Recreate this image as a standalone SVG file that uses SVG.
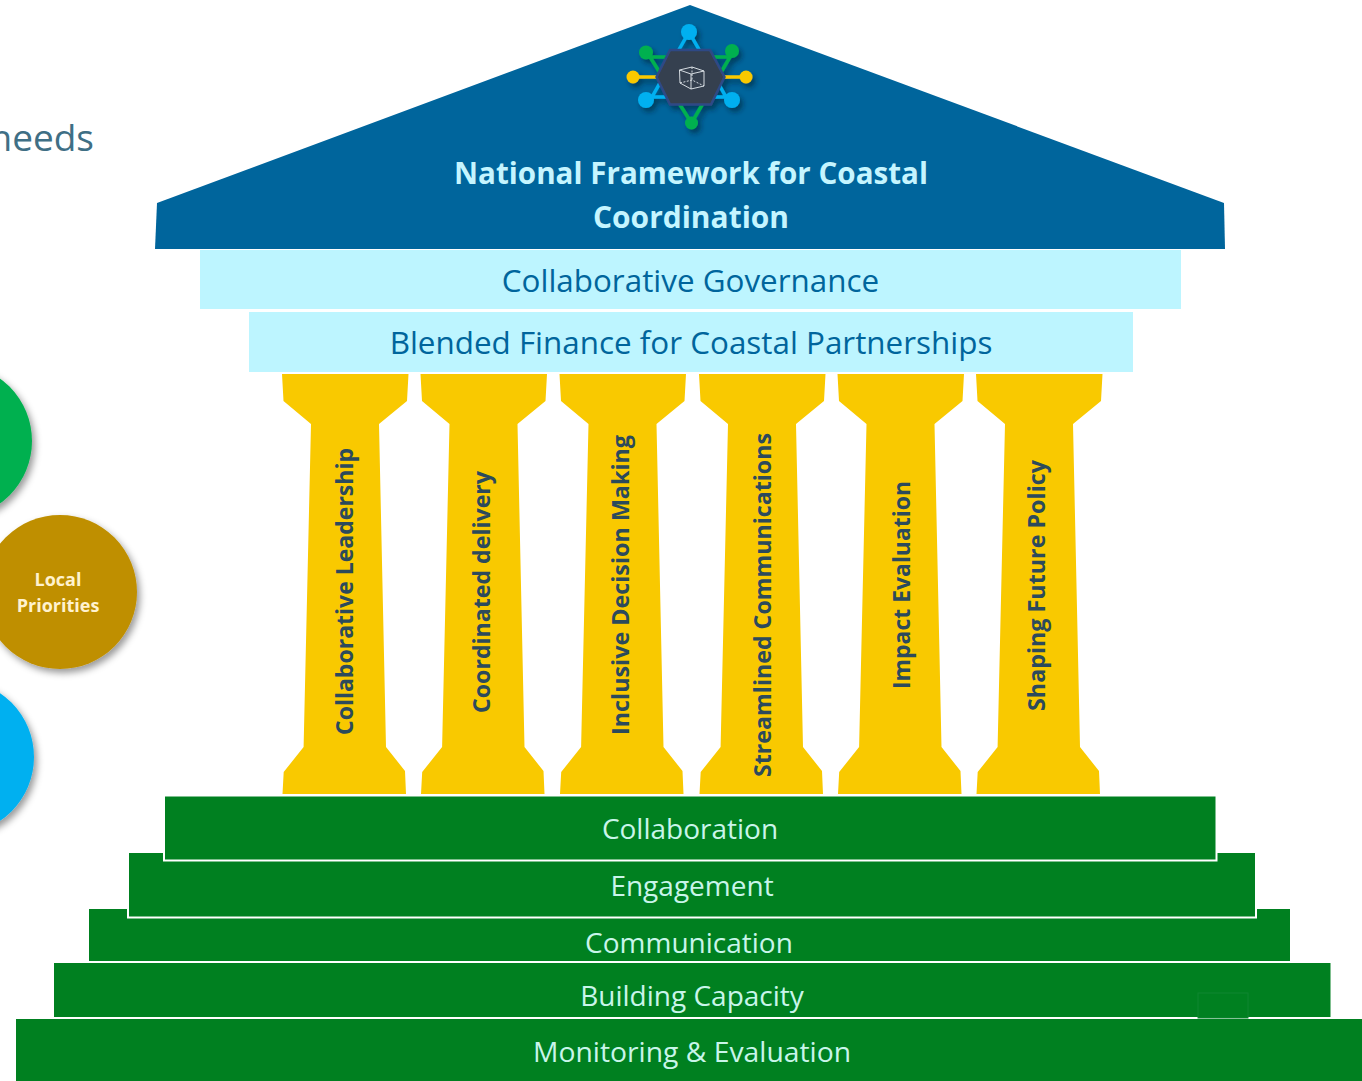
<svg xmlns="http://www.w3.org/2000/svg" width="1362" height="1081" viewBox="0 0 1362 1081">
<style>
text{font-family:"Open Sans","Noto Sans","Liberation Sans",sans-serif;text-anchor:middle}
.band{fill:#bdf5ff}
.bt{fill:#00659c;font-size:31.400px}
.step{fill:#008020;stroke:#fff;stroke-width:2}
.st{fill:#c9f5ea;font-size:28px}
.pl{fill:#f9c900}
.pt{fill:#2c4a5c;font-size:24px;font-weight:700}
.k{stroke-width:3.500;fill:none}
.cube{fill:none;stroke:#e8edf2;stroke-width:.9}
</style>
<defs>
<filter id="sh" x="-30%" y="-30%" width="170%" height="170%"><feDropShadow dx="3" dy="4" stdDeviation="3.500" flood-color="#000" flood-opacity=".4"/></filter>
<filter id="sh2" x="-60%" y="-60%" width="240%" height="240%"><feDropShadow dx="3" dy="4" stdDeviation="2.500" flood-color="#001a33" flood-opacity=".55"/></filter>
<polygon id="pillar" points="282,374 408.500,374 407,401 379,424 386,747 405,771 406,794 282.500,794 283.700,772 303.600,747 311,424 283.500,401"/>
</defs>
<text x="94" y="151" style="text-anchor:end;font-size:37px;fill:#3f6f85">needs</text>
<g id="circle-green"><circle cx="-45" cy="441" r="77" fill="#00b04f" filter="url(#sh)"/></g>
<g id="circle-local-priorities"><circle cx="60" cy="592" r="77" fill="#bf8f00" filter="url(#sh)"/>
<text x="58" y="586" fill="#fff2cf" font-size="18" font-weight="700">Local</text>
<text x="58" y="612" fill="#fff2cf" font-size="18" font-weight="700">Priorities</text></g>
<g id="circle-blue"><circle cx="-43" cy="757" r="77" fill="#00b0f0" filter="url(#sh)"/></g>
<g id="roof"><polygon points="690,5 1224,203 1225,249 155,249 157,203" fill="#00659c"/>
<text x="691" y="184" fill="#c5f5ff" font-size="30" font-weight="700" textLength="474" lengthAdjust="spacingAndGlyphs">National Framework for Coastal</text>
<text x="691" y="228" fill="#c5f5ff" font-size="30" font-weight="700" textLength="196" lengthAdjust="spacingAndGlyphs">Coordination</text></g>
<g id="network-icon">
<g filter="url(#sh2)">
<path class="k" stroke="#00b0f0" d="M689,32 L652,97 H726 Z M646,100 L652,97 M732,100 L726,97"/>
<path class="k" stroke="#00b04f" d="M646,52 L650,57 H730 L732,51 M650,57 L691.500,123 L730,57"/>
<path class="k" stroke="#f9c900" d="M633,77 H746"/>
<circle cx="689" cy="32" r="8" fill="#00b0f0"/><circle cx="646" cy="100" r="8" fill="#00b0f0"/><circle cx="732" cy="100" r="8" fill="#00b0f0"/>
<circle cx="646" cy="52.500" r="7" fill="#00b04f"/><circle cx="732" cy="51" r="7" fill="#00b04f"/><circle cx="691.500" cy="123" r="6.500" fill="#00b04f"/>
<circle cx="633" cy="77" r="6.500" fill="#f9c900"/><circle cx="746" cy="77" r="6.500" fill="#f9c900"/>
<polygon points="656.500,77 670,50 710,50 724.500,77 711,104.500 670,104.500" fill="#36404f" stroke="#2f4a86" stroke-width="2.500"/>
</g>
<path class="cube" d="M679.500,70 L692,67 L704,71 V86 L691,89 L680,83 Z M679.500,70 L691,74 L704,71 M691,74 V89"/>
<path class="cube" stroke-dasharray="2 1.500" d="M692,67 V80 M680,83 L692,80 L704,86"/>
</g>
<g id="band-governance"><rect class="band" x="200" y="250" width="981" height="59"/><text class="bt" x="690.500" y="292">Collaborative Governance</text></g>
<g id="band-finance"><rect class="band" x="249" y="312" width="884" height="60"/><text class="bt" x="691" y="354">Blended Finance for Coastal Partnerships</text></g>
<g id="pillar-1"><use href="#pillar" class="pl"/><text class="pt" transform="translate(353,591.500) rotate(-90)" textLength="287" lengthAdjust="spacingAndGlyphs">Collaborative Leadership</text></g>
<g id="pillar-2"><use href="#pillar" class="pl" x="138.500"/><text class="pt" transform="translate(490,592) rotate(-90)" textLength="242" lengthAdjust="spacingAndGlyphs">Coordinated delivery</text></g>
<g id="pillar-3"><use href="#pillar" class="pl" x="277.500"/><text class="pt" transform="translate(629,585) rotate(-90)" textLength="300" lengthAdjust="spacingAndGlyphs">Inclusive Decision Making</text></g>
<g id="pillar-4"><use href="#pillar" class="pl" x="417"/><text class="pt" transform="translate(771,605) rotate(-90)" textLength="344" lengthAdjust="spacingAndGlyphs">Streamlined Communications</text></g>
<g id="pillar-5"><use href="#pillar" class="pl" x="555.500"/><text class="pt" transform="translate(910,585) rotate(-90)" textLength="208" lengthAdjust="spacingAndGlyphs">Impact Evaluation</text></g>
<g id="pillar-6"><use href="#pillar" class="pl" x="694"/><text class="pt" transform="translate(1045,585.500) rotate(-90)" textLength="251" lengthAdjust="spacingAndGlyphs">Shaping Future Policy</text></g>
<g id="step-5"><rect class="step" x="15" y="1018" width="1360" height="70"/><text class="st" x="692" y="1062" textLength="318" lengthAdjust="spacingAndGlyphs">Monitoring &amp; Evaluation</text></g>
<g id="step-4"><rect class="step" x="53" y="962" width="1278.500" height="56"/><rect x="1198" y="993" width="50" height="25" fill="#008020" stroke="#0f8530" stroke-width="1"/><text class="st" x="692" y="1006">Building Capacity</text></g>
<g id="step-3"><rect class="step" x="88" y="908" width="1203" height="54"/><text class="st" x="689" y="953">Communication</text></g>
<g id="step-2"><rect class="step" x="128" y="852" width="1128" height="65.500"/><text class="st" x="692" y="896">Engagement</text></g>
<g id="step-1"><rect class="step" x="164" y="795.500" width="1052.500" height="65"/><text class="st" x="690" y="839">Collaboration</text></g>
</svg>
